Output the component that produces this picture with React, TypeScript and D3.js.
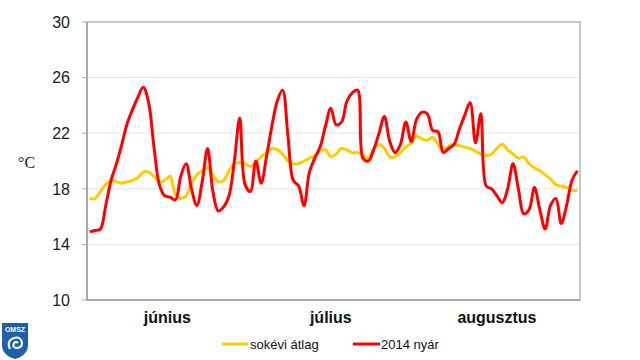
import React from "react";
import * as d3 from "d3";

const months = ["június", "július", "augusztus"];
const monthDays = [30, 31, 31];
const yTicks = [10, 14, 18, 22, 26, 30];

// sokévi átlag (long-term mean), daily June 1 – Aug 31
const avgSeries = [
  17.3, 17.3, 17.8, 18.3, 18.6, 18.5, 18.4, 18.5, 18.6, 18.8,
  19.2, 19.2, 18.9, 18.5, 18.6, 18.9, 17.6, 17.3, 17.5, 18.4,
  19.0, 19.3, 19.5, 19.0, 18.5, 18.6, 19.3, 19.8, 19.9, 19.8,
  19.6, 19.9, 20.3, 20.6, 20.9, 20.8, 20.5, 20.0, 19.8, 19.8,
  20.0, 20.2, 20.4, 20.7, 20.8, 20.3, 20.5, 20.9, 20.8, 20.6,
  20.6, 20.4, 20.2, 20.9, 21.2, 20.9, 20.3, 20.3, 20.6, 21.0,
  21.3, 21.8, 21.6, 21.5, 21.7, 21.2, 20.7, 21.1, 21.2, 21.1,
  21.0, 20.9, 20.7, 20.5, 20.4, 20.5, 20.9, 21.2, 20.8, 20.5,
  20.2, 20.3, 19.8, 19.5, 19.3, 19.0, 18.7, 18.3, 18.2, 18.1,
  17.9, 17.9,
];

// 2014 nyár (summer 2014), daily
const summer2014 = [
  14.9, 15.0, 15.1, 16.8, 18.6, 19.8, 21.2, 22.7, 23.7, 24.6,
  25.3, 24.2, 21.0, 18.3, 17.5, 17.4, 17.2, 18.9, 19.8, 18.0,
  16.8, 18.5, 20.9, 17.8, 16.4, 16.7, 17.5, 20.0, 23.1, 18.3,
  17.8, 20.0, 18.4, 20.3, 22.5, 24.3, 25.1, 21.8, 18.6, 18.2,
  16.8, 19.2, 20.2, 21.0, 22.5, 23.8, 22.6, 22.8, 24.3, 24.9,
  25.1, 20.2, 20.0, 20.8, 22.0, 23.2, 21.4, 20.6, 21.2, 22.8,
  21.4, 23.0, 23.5, 23.4, 22.2, 22.1, 20.6, 20.9, 21.2, 22.3,
  23.3, 24.2, 21.3, 23.4, 18.2, 18.0, 17.5, 17.0, 18.0, 19.8,
  18.0, 16.2, 16.5, 18.1, 16.5, 15.1, 16.8, 17.3, 15.5, 16.8,
  18.6, 19.3,
];

const seriesNames = ["sokévi átlag", "2014 nyár"];
const seriesColors = ["#ffcc00", "#ff0000"];

export default function App() {
  const W = 640, H = 360;
  const left = 87, right = 580, top = 22, bottom = 300;
  const totalDays = d3.sum(monthDays);
  const x = d3.scaleLinear().domain([0, totalDays]).range([left, right]);
  const y = d3.scaleLinear().domain([10, 30]).range([bottom, top]);

  const line = d3
    .line<number>()
    .x((_, i) => x(i + 0.5))
    .y((d) => y(d))
    .curve(d3.curveCatmullRom.alpha(0.5));

  const starts = d3.cumsum([0, ...monthDays.slice(0, -1)]);

  return (
    <svg
      width={W}
      height={H}
      style={{ position: "fixed", left: 0, top: 0, background: "#fff" }}
      fontFamily="Liberation Sans, Arial, sans-serif"
    >
      <rect width={W} height={H} fill="#fff" />
      {/* gridlines */}
      {yTicks.slice(1, -1).map((t) => (
        <line key={t} x1={left} x2={right} y1={y(t)} y2={y(t)} stroke="#e3e3e3" strokeWidth={1} />
      ))}
      {/* frame */}
      <rect x={left} y={top} width={right - left} height={bottom - top} fill="none" stroke="#b5b5b5" strokeWidth={1.5} />
      <line x1={left} x2={left} y1={top} y2={bottom} stroke="#a8a8a8" strokeWidth={2} />
      <line x1={left} x2={right} y1={bottom} y2={bottom} stroke="#a8a8a8" strokeWidth={2} />
      {/* y ticks */}
      {yTicks.map((t) => (
        <g key={t}>
          <line x1={left - 5} x2={left} y1={y(t)} y2={y(t)} stroke="#a8a8a8" strokeWidth={1} />
          <text x={70} y={y(t)} dy="0.36em" textAnchor="end" fontSize={16} fill="#1a1a1a">
            {t}
          </text>
        </g>
      ))}
      <text x={18} y={168} fontSize={16} fontFamily="Liberation Serif, Times New Roman, serif" fill="#222">
        °C
      </text>
      {/* month labels */}
      {months.map((m, i) => (
        <text
          key={m}
          x={x(starts[i] + monthDays[i] / 2)}
          y={323}
          textAnchor="middle"
          fontSize={16}
          fontWeight="bold"
          fill="#111"
        >
          {m}
        </text>
      ))}
      {/* series */}
      <path d={line(avgSeries) ?? ""} fill="none" stroke={seriesColors[0]} strokeWidth={3} strokeLinejoin="round" />
      <path d={line(summer2014) ?? ""} fill="none" stroke={seriesColors[1]} strokeWidth={3} strokeLinejoin="round" />
      {/* legend */}
      <g>
        <line x1={222} x2={248} y1={344} y2={344} stroke={seriesColors[0]} strokeWidth={3} />
        <text x={250} y={344} dy="0.36em" fontSize={13} fill="#111">
          {seriesNames[0]}
        </text>
        <line x1={353} x2={380} y1={344} y2={344} stroke={seriesColors[1]} strokeWidth={3} />
        <text x={381} y={344} dy="0.36em" fontSize={13} fill="#111">
          {seriesNames[1]}
        </text>
      </g>
      {/* OMSZ logo */}
      <g transform="translate(2,323)">
        <path d="M0,0 H26 V22 Q26,32 13,36 Q0,32 0,22 Z" fill="#1f5fae" />
        <text x={13} y={9} textAnchor="middle" fontSize={7} fontWeight="bold" fill="#fff">
          OMSZ
        </text>
        <path
          d="M8,26 Q4,18 12,15 Q19,13 20,20 Q20,25 14,25 Q10,24 12,20 Q14,18 16,20"
          fill="none"
          stroke="#fff"
          strokeWidth={2}
        />
      </g>
    </svg>
  );
}
